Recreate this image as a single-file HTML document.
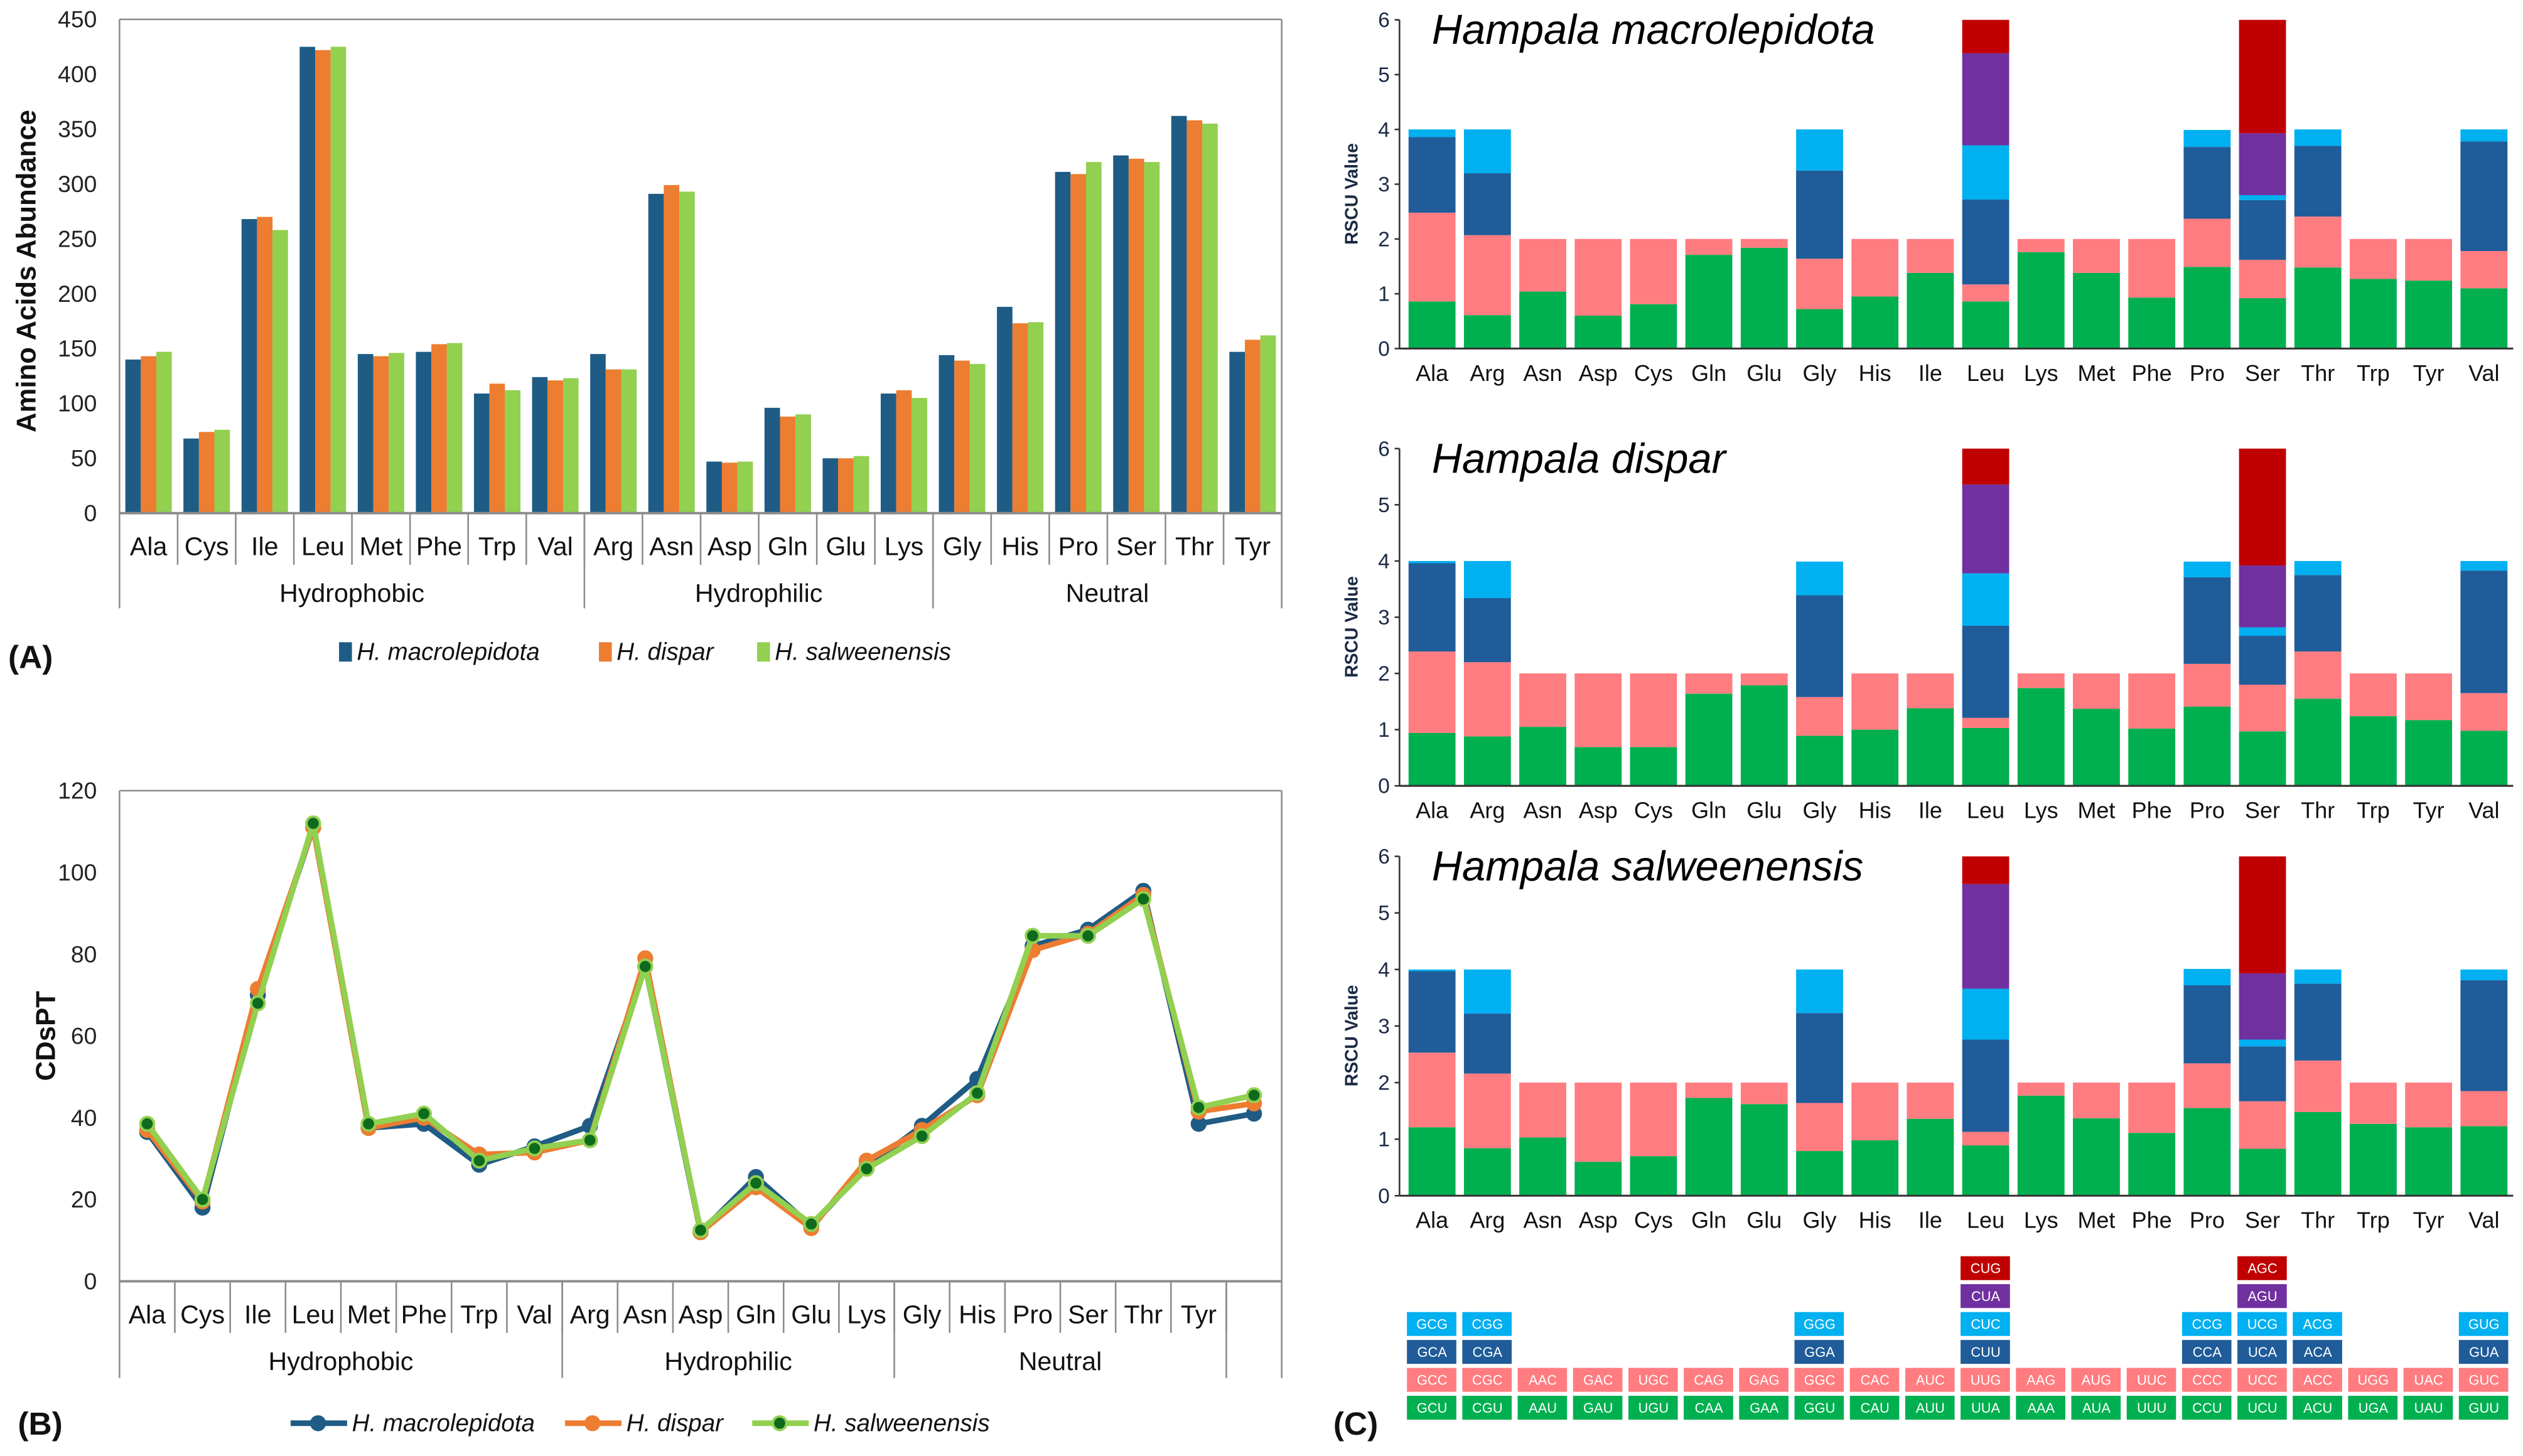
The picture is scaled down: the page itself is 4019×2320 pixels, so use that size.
<!DOCTYPE html>
<html><head><meta charset="utf-8">
<style>
html,body{margin:0;padding:0;background:#fff;}
svg{display:block;}
text{font-family:"Liberation Sans Narrow","Liberation Sans",sans-serif;}
.b{font-family:"Liberation Sans",sans-serif;font-weight:bold;}
.it{font-style:italic;}
</style></head>
<body>
<svg id="fig" xmlns="http://www.w3.org/2000/svg" width="4019" height="2320" viewBox="0 0 1563 902.3">
<rect width="1563" height="902.3" fill="#fff"/>
<g id="A"></g>
<g id="B"></g>
<g id="C"></g>
</svg>
<script>
// ---------- Chart A data ----------
const catsA = ["Ala","Cys","Ile","Leu","Met","Phe","Trp","Val","Arg","Asn","Asp","Gln","Glu","Lys","Gly","His","Pro","Ser","Thr","Tyr"];
const abMac = [140,68,268,425,145,147,109,124,145,291,47,96,50,109,144,188,311,326,362,147];
const abDis = [143,74,270,422,143,154,118,121,131,299,46,88,50,112,139,173,309,323,358,158];
const abSal = [147,76,258,425,146,155,112,123,131,293,47,90,52,105,136,174,320,320,355,162];
const ticksA = [0,50,100,150,200,250,300,350,400,450];
// ---------- Chart B data ----------
const catsB = ["Ala","Cys","Ile","Leu","Met","Phe","Trp","Val","Arg","Asn","Asp","Gln","Glu","Lys","Gly","His","Pro","Ser","Thr","Tyr",""];
const cdMac = [36.5,18,70,111,37.5,38.5,28.5,33,38,77,12,25.5,13.5,28,38,49.5,82,86,95.5,38.5,41];
const cdDis = [37,19.5,71.5,111,37.5,40,31,31.5,34.5,79,12,23,13,29.5,37,45.5,81,85,94.5,41.5,43.5];
const cdSal = [38.5,20,68,112,38.5,41,29.5,32.5,34.5,77,12.5,24,14,27.5,35.5,46,84.5,84.5,93.5,42.5,45.5];
const ticksB = [0,20,40,60,80,100,120];
// ---------- Chart C data (cumulative stack tops per codon layer) ----------
const catsC = ["Ala","Arg","Asn","Asp","Cys","Gln","Glu","Gly","His","Ile","Leu","Lys","Met","Phe","Pro","Ser","Thr","Trp","Tyr","Val"];
const mac1 = [0.86,0.61,1.04,0.6,0.81,1.71,1.84,0.72,0.95,1.38,0.86,1.76,1.38,0.93,1.49,0.92,1.48,1.27,1.24,1.1];
const mac2 = [2.48,2.07,2,2,2,2,2,1.64,2,2,1.17,2,2,2,2.37,1.62,2.41,2,2,1.78];
const mac3 = [3.86,3.2,null,null,null,null,null,3.25,null,null,2.72,null,null,null,3.68,2.71,3.7,null,null,3.78];
const mac4 = [4,4,null,null,null,null,null,4,null,null,3.71,null,null,null,3.99,2.8,4,null,null,4];
const mac5 = [null,null,null,null,null,null,null,null,null,null,5.39,null,null,null,null,3.93,null,null,null,null];
const mac6 = [null,null,null,null,null,null,null,null,null,null,6,null,null,null,null,6,null,null,null,null];
const dis1 = [0.94,0.88,1.05,0.69,0.69,1.64,1.79,0.89,1.0,1.38,1.03,1.74,1.37,1.02,1.41,0.97,1.55,1.24,1.17,0.98];
const dis2 = [2.39,2.2,2,2,2,2,2,1.58,2,2,1.21,2,2,2,2.17,1.8,2.39,2,2,1.65];
const dis3 = [3.96,3.34,null,null,null,null,null,3.39,null,null,2.85,null,null,null,3.71,2.67,3.75,null,null,3.83];
const dis4 = [4,4,null,null,null,null,null,3.99,null,null,3.78,null,null,null,3.99,2.82,4,null,null,4];
const dis5 = [null,null,null,null,null,null,null,null,null,null,5.36,null,null,null,null,3.92,null,null,null,null];
const dis6 = [null,null,null,null,null,null,null,null,null,null,6,null,null,null,null,6,null,null,null,null];
const sal1 = [1.21,0.84,1.03,0.6,0.7,1.73,1.62,0.79,0.98,1.36,0.89,1.77,1.37,1.11,1.55,0.83,1.48,1.27,1.21,1.23];
const sal2 = [2.53,2.16,2,2,2,2,2,1.64,2,2,1.13,2,2,2,2.34,1.67,2.39,2,2,1.85];
const sal3 = [3.97,3.22,null,null,null,null,null,3.23,null,null,2.76,null,null,null,3.72,2.64,3.75,null,null,3.81];
const sal4 = [4,4,null,null,null,null,null,4,null,null,3.66,null,null,null,4.01,2.76,4,null,null,4];
const sal5 = [null,null,null,null,null,null,null,null,null,null,5.51,null,null,null,null,3.93,null,null,null,null];
const sal6 = [null,null,null,null,null,null,null,null,null,null,6,null,null,null,null,6,null,null,null,null];
const ticksC = [0,1,2,3,4,5,6];
const cod1 = ["GCU","CGU","AAU","GAU","UGU","CAA","GAA","GGU","CAU","AUU","UUA","AAA","AUA","UUU","CCU","UCU","ACU","UGA","UAU","GUU"];
const cod2 = ["GCC","CGC","AAC","GAC","UGC","CAG","GAG","GGC","CAC","AUC","UUG","AAG","AUG","UUC","CCC","UCC","ACC","UGG","UAC","GUC"];
const cod3 = ["GCA","CGA","","","","","","GGA","","","CUU","","","","CCA","UCA","ACA","","","GUA"];
const cod4 = ["GCG","CGG","","","","","","GGG","","","CUC","","","","CCG","UCG","ACG","","","GUG"];
const cod5 = ["","","","","","","","","","","CUA","","","","","AGU","","","",""];
const cod6 = ["","","","","","","","","","","CUG","","","","","AGC","","","",""];

const NS="http://www.w3.org/2000/svg";
function mk(parent,tag,attrs,txt){const e=document.createElementNS(NS,tag);for(const k in attrs)e.setAttribute(k,attrs[k]);if(txt!==undefined)e.textContent=txt;parent.appendChild(e);return e;}

// ================= Chart A =================
(function(){
const g=document.getElementById('A');
const L=74,R=794,T=12,Bt=318,n=catsA.length,w=(R-L)/n;
const y=v=>Bt-(v/450)*(Bt-T);
const x=i=>L+i*w;
mk(g,'line',{x1:L,y1:T,x2:R,y2:T,stroke:'#8c8c8c','stroke-width':1});
mk(g,'line',{x1:R,y1:T,x2:R,y2:Bt,stroke:'#8c8c8c','stroke-width':1});
mk(g,'line',{x1:L,y1:T,x2:L,y2:Bt,stroke:'#8c8c8c','stroke-width':1});
ticksA.forEach(t=>{const e=mk(g,'text',{x:L-14,y:y(t)+5,'text-anchor':'end','font-size':14.5,fill:'#222'},t);
});
const cols=['#1F5C85','#ED7D31','#92D050'],ser=[abMac,abDis,abSal];
const bw=9.6;
ser.forEach((s,k)=>s.forEach((v,i)=>{const r=mk(g,'rect',{x:x(i)+w/2-1.5*bw+k*bw,y:y(v),width:bw,height:Bt-y(v),fill:cols[k]});
}));
mk(g,'line',{x1:L,y1:Bt,x2:R,y2:Bt,stroke:'#8c8c8c','stroke-width':1.5});
catsA.forEach((c,i)=>{const e=mk(g,'text',{x:x(i)+w/2,y:344,'text-anchor':'middle','font-size':16,fill:'#111'},c);

if(i>0)mk(g,'line',{x1:x(i),y1:Bt,x2:x(i),y2:350,stroke:'#8c8c8c','stroke-width':1});});
[0,8,14,20].forEach(i=>mk(g,'line',{x1:x(i),y1:Bt,x2:x(i),y2:377,stroke:'#8c8c8c','stroke-width':1}));
[['Hydrophobic',0,8],['Hydrophilic',8,14],['Neutral',14,20]].forEach(a=>{const e=mk(g,'text',{x:(x(a[1])+x(a[2]))/2,y:373,'text-anchor':'middle','font-size':16,fill:'#111'},a[0]);
});
const yt=mk(g,'text',{x:0,y:0,'text-anchor':'middle','font-size':17,fill:'#111',class:'b',transform:'translate(22,168) rotate(-90)'},'Amino Acids Abundance');

const pl=mk(g,'text',{x:5,y:414,'font-size':20,fill:'#111',class:'b'},'(A)');

const lg=[[210,'H. macrolepidota'],[371,'H. dispar'],[469,'H. salweenensis']];
lg.forEach((a,k)=>{mk(g,'rect',{x:a[0],y:398,width:8,height:12,fill:cols[k]});
const e=mk(g,'text',{x:a[0]+11,y:409,'font-size':15,fill:'#111',class:'it'},a[1]);
});
})();

// ================= Chart B =================
(function(){
const g=document.getElementById('B');
const L=74,R=794,T=490,Bt=794,n=catsB.length,w=(R-L)/n;
const y=v=>Bt-(v/120)*(Bt-T);
const x=i=>L+i*w;
mk(g,'line',{x1:L,y1:T,x2:R,y2:T,stroke:'#8c8c8c','stroke-width':1});
mk(g,'line',{x1:R,y1:T,x2:R,y2:Bt,stroke:'#8c8c8c','stroke-width':1});
mk(g,'line',{x1:L,y1:T,x2:L,y2:Bt,stroke:'#8c8c8c','stroke-width':1});
ticksB.forEach(t=>{const e=mk(g,'text',{x:L-14,y:y(t)+5,'text-anchor':'end','font-size':14.5,fill:'#222'},t);
});
mk(g,'line',{x1:L,y1:Bt,x2:R,y2:Bt,stroke:'#8c8c8c','stroke-width':1.5});
catsB.forEach((c,i)=>{const e=mk(g,'text',{x:x(i)+w/2,y:820,'text-anchor':'middle','font-size':16,fill:'#111'},c);

if(i>0)mk(g,'line',{x1:x(i),y1:Bt,x2:x(i),y2:826,stroke:'#8c8c8c','stroke-width':1});});
[0,8,14,20,21].forEach(i=>mk(g,'line',{x1:x(i),y1:Bt,x2:x(i),y2:854,stroke:'#8c8c8c','stroke-width':1}));
[['Hydrophobic',0,8],['Hydrophilic',8,14],['Neutral',14,20]].forEach(a=>{const e=mk(g,'text',{x:(x(a[1])+x(a[2]))/2,y:849,'text-anchor':'middle','font-size':16,fill:'#111'},a[0]);
});
const cols=['#1F5C85','#ED7D31','#92D050'],ser=[cdMac,cdDis,cdSal],mcol=['#1F5C85','#ED7D31','#0E6B1E'];
ser.forEach((s,k)=>{const p=s.map((v,i)=>(x(i)+w/2)+','+y(v)).join(' ');
const pl=mk(g,'polyline',{points:p,fill:'none',stroke:cols[k],'stroke-width':3.5,'stroke-linejoin':'round'});

s.forEach((v,i)=>{const c=mk(g,'circle',{cx:x(i)+w/2,cy:y(v),r:4.2,fill:mcol[k],stroke:cols[k],'stroke-width':1.5});
});});
const yt=mk(g,'text',{x:0,y:0,'text-anchor':'middle','font-size':17,fill:'#111',class:'b',transform:'translate(34,642) rotate(-90)'},'CDsPT');

const pl=mk(g,'text',{x:11,y:889,'font-size':20,fill:'#111',class:'b'},'(B)');

const lg=[[180,'H. macrolepidota'],[350,'H. dispar'],[466,'H. salweenensis']];
lg.forEach((a,k)=>{mk(g,'line',{x1:a[0],y1:882,x2:a[0]+35,y2:882,stroke:cols[k],'stroke-width':3.5});
mk(g,'circle',{cx:a[0]+17,cy:882,r:4.2,fill:mcol[k],stroke:cols[k],'stroke-width':1.5});
const e=mk(g,'text',{x:a[0]+38,y:887,'font-size':15,fill:'#111',class:'it'},a[1]);
});
})();

// ================= Chart C =================
(function(){
const g=document.getElementById('C');
const colsC=['#00B050','#FF7C80','#1F5C99','#00B0F0','#7030A0','#C00000'];
const panels=[
 {t:'Hampala macrolepidota',y0:216,y6:12.3,s:[mac1,mac2,mac3,mac4,mac5,mac6]},
 {t:'Hampala dispar',y0:487,y6:278,s:[dis1,dis2,dis3,dis4,dis5,dis6]},
 {t:'Hampala salweenensis',y0:741,y6:530.7,s:[sal1,sal2,sal3,sal4,sal5,sal6]}];
const L=867,R=1557,x0=872.6,pitch=34.3,bw=29.1;
panels.forEach((p,pi)=>{
 const pg=mk(g,'g',{});
 
 const y=v=>p.y0-(v/6)*(p.y0-p.y6);
 catsC.forEach((c,i)=>{let prev=0;p.s.forEach((arr,k)=>{const v=arr[i];if(v===null)return;
  const r=mk(pg,'rect',{x:x0+i*pitch,y:y(v),width:bw,height:y(prev)-y(v),fill:colsC[k]});
  
  prev=v;});
  const e=mk(pg,'text',{x:x0+i*pitch+bw/2,y:p.y0+20,'text-anchor':'middle','font-size':14,fill:'#111'},c);
  });
 mk(pg,'line',{x1:L,y1:p.y6,x2:L,y2:p.y0,stroke:'#333','stroke-width':1});
 mk(pg,'line',{x1:L,y1:p.y0,x2:R,y2:p.y0,stroke:'#333','stroke-width':1.2});
 ticksC.forEach(t=>{mk(pg,'line',{x1:L-3,y1:y(t),x2:L,y2:y(t),stroke:'#333','stroke-width':1});
  const e=mk(pg,'text',{x:L-6,y:y(t)+4.5,'text-anchor':'end','font-size':13,fill:'#1a2a44'},t);
  });
 const yt=mk(pg,'text',{x:0,y:0,'text-anchor':'middle','font-size':11,fill:'#1a2a44',class:'b',transform:'translate('+(841)+','+((p.y0+p.y6)/2+6)+') rotate(-90)'},'RSCU Value');
 
 const tt=mk(pg,'text',{x:887,y:p.y6+15,'font-size':26,fill:'#000',class:'it','font-family':'Liberation Sans Narrow, Liberation Sans, sans-serif'},p.t);
 
});
// codon legend grid
const rows=[cod1,cod2,cod3,cod4,cod5,cod6];
const rowTop=[865,847.7,830.4,813.1,795.8,778.5];
rows.forEach((r,k)=>r.forEach((cd,i)=>{if(!cd)return;
 const bx=mk(g,'rect',{x:x0+i*pitch-1,y:rowTop[k],width:bw+1.5,height:14.8,fill:colsC[k]});
 
 const e=mk(g,'text',{x:x0+i*pitch+bw/2,y:rowTop[k]+10.5,'text-anchor':'middle','font-size':8.5,fill:'#fff'},cd);
 }));
const pl=mk(g,'text',{x:826,y:889,'font-size':20,fill:'#111',class:'b'},'(C)');

})();
</script>
</body></html>
